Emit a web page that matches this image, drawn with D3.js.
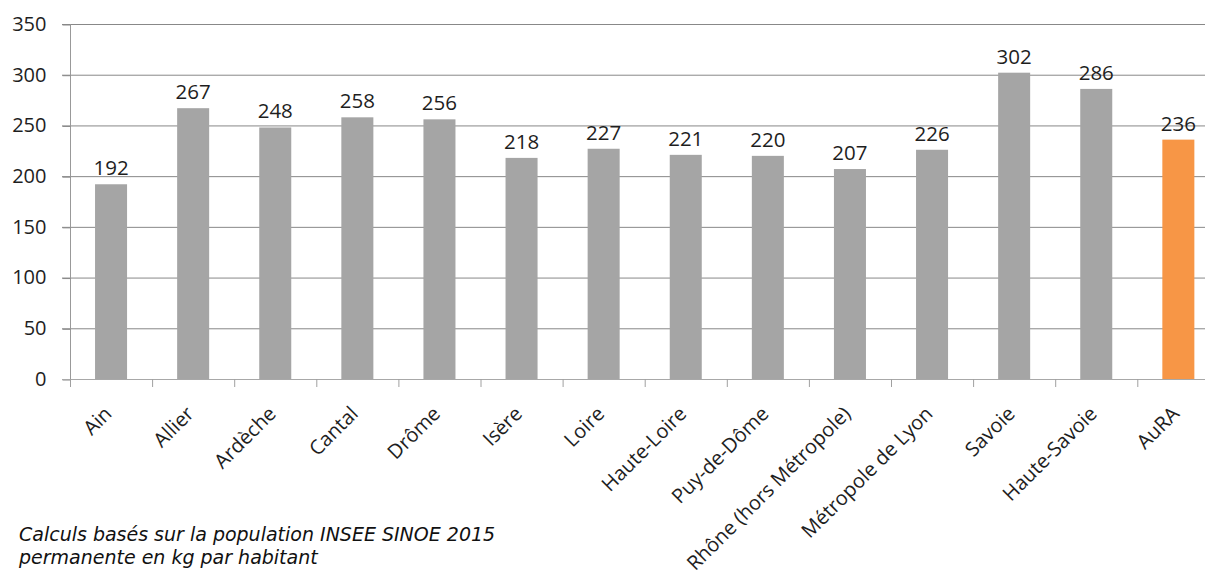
<!DOCTYPE html>
<html><head><meta charset="utf-8">
<script src="https://cdn.jsdelivr.net/npm/d3@7"></script>
<style>body{margin:0;background:#fff}svg{display:block}</style>
</head><body>
<svg id="c" width="1205" height="575"></svg>
<script>
const categories = ["Ain","Allier","Ardèche","Cantal","Drôme","Isère","Loire","Haute-Loire","Puy-de-Dôme","Rhône (hors Métropole)","Métropole de Lyon","Savoie","Haute-Savoie","AuRA"];
const values = [192,267,248,258,256,218,227,221,220,207,226,302,286,236];
const yTicks = [0,50,100,150,200,250,300,350];
const footnote = ["Calculs basés sur la population INSEE SINOE 2015","permanente en kg par habitant"];

const svg = d3.select("#c");
const mLeft = 70, mRight = 1219.4, mTop = 24, mBottom = 379;
const x = d3.scaleBand().domain(categories).range([mLeft, mRight]).paddingInner(0.61).paddingOuter(0.305);
const y = d3.scaleLinear().domain([0,350]).range([mBottom, mTop]);
const font = "Open Sans, Noto Sans, sans-serif";

// gridlines
svg.append("g").selectAll("line").data(yTicks.filter(d=>d>0)).join("line")
  .attr("x1", 62).attr("x2", 1205).attr("y1", d=>y(d)+0.5).attr("y2", d=>y(d)+0.5)
  .attr("stroke", "#888888").attr("stroke-width", 1);

// y axis
const ya = svg.append("g").attr("transform", `translate(${mLeft+0.5},0)`)
  .call(d3.axisLeft(y).tickValues(yTicks).tickSize(8).tickPadding(16));
ya.select(".domain").attr("stroke", "#999").attr("d", `M0,${mTop}V${mBottom}`);
ya.selectAll(".tick line").attr("stroke", "#888").attr("transform","translate(0,0.5)");
ya.selectAll(".tick text").attr("font-family", font).attr("font-size", 20).attr("fill", "#1e1e1e");

// bars
svg.append("g").selectAll("rect").data(values).join("rect")
  .attr("x", (d,i)=>x(categories[i])).attr("width", x.bandwidth())
  .attr("y", d=>y(d)).attr("height", d=>mBottom-y(d))
  .attr("fill", (d,i)=> i===categories.length-1 ? "#F79646" : "#A5A5A5");

// x axis
const xa = svg.append("g").attr("transform", `translate(0,${mBottom+0.5})`)
  .call(d3.axisBottom(x).tickSize(0).tickPadding(0));
xa.select(".domain").attr("stroke", "#A8A8A8").attr("d", `M62,0H1205`);
xa.selectAll(".tick text").remove();
// boundary ticks
const step = x.step();
svg.append("g").selectAll("line").data(d3.range(categories.length+1)).join("line")
  .attr("x1", i=>mLeft+i*step+0.5).attr("x2", i=>mLeft+i*step+0.5)
  .attr("y1", mBottom).attr("y2", mBottom+8).attr("stroke", "#A0A0A0");

// x labels
svg.append("g").selectAll("text").data(categories).join("text")
  .attr("transform", d=>`translate(${x(d)+x.bandwidth()/2+2},${mBottom+36}) rotate(-45)`)
  .attr("text-anchor", "end").attr("font-family", font).attr("font-size", 20).attr("fill", "#1e1e1e")
  .text(d=>d);

// value labels
svg.append("g").selectAll("text").data(values).join("text")
  .attr("x", (d,i)=>x(categories[i])+x.bandwidth()/2).attr("y", d=>y(d)-9)
  .attr("text-anchor","middle").attr("font-family", font).attr("font-size", 20.5).attr("fill", "#1e1e1e")
  .text(d=>d);

// footnote
svg.append("g").selectAll("text").data(footnote).join("text")
  .attr("x", 19).attr("y", (d,i)=>541+i*23)
  .attr("font-family", "DejaVu Sans, sans-serif").attr("font-style","italic").attr("font-size", 19).attr("fill","#111")
  .text(d=>d);
</script>
</body></html>
